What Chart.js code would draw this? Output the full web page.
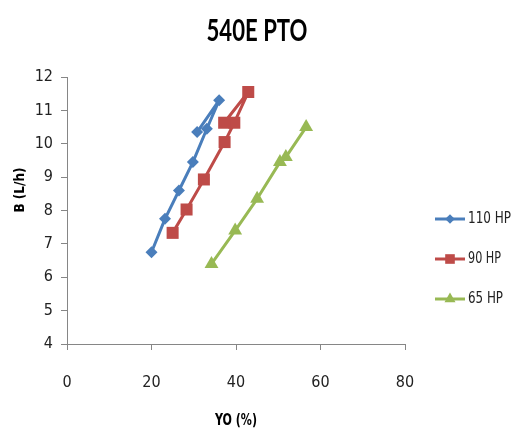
<!DOCTYPE html>
<html>
<head>
<meta charset="utf-8">
<script src="https://cdn.jsdelivr.net/npm/chart.js@4"></script>
<style>
  html, body { margin: 0; padding: 0; background: #fff; }
  #wrap { width: 511px; height: 432px; position: relative; }
</style>
</head>
<body>
<div id="wrap"><canvas id="chart" width="511" height="432"></canvas></div>
<script>
// data
const seriesNames = ['110 HP', '90 HP', '65 HP'];
const hp110X = [20.0, 23.2, 26.5, 29.8, 33.1, 36.0, 30.8];
const hp110Y = [6.75, 7.75, 8.6, 9.45, 10.45, 11.3, 10.35];
const hp90X = [25.0, 28.3, 32.4, 37.3, 39.6, 42.9, 37.2];
const hp90Y = [7.33, 8.03, 8.93, 10.05, 10.63, 11.55, 10.63];
const hp65X = [34.2, 39.8, 45.0, 50.4, 51.8, 56.6];
const hp65Y = [6.4, 7.4, 8.35, 9.45, 9.6, 10.5];
const xTicks = [0, 20, 40, 60, 80];
const yTicks = [4, 5, 6, 7, 8, 9, 10, 11, 12];

const FONT = "'DejaVu Sans Condensed', Lato, sans-serif";
const colors = ['#4A7EBB', '#BE4B48', '#98B954'];
const markers = ['rectRot', 'rect', 'triangle'];
const radii = [6, 8.5, 8];

function pts(xs, ys) { return xs.map((x, i) => ({ x: x, y: ys[i] })); }
const allX = [hp110X, hp90X, hp65X];
const allY = [hp110Y, hp90Y, hp65Y];

const datasets = seriesNames.map((name, i) => ({
  label: name,
  data: pts(allX[i], allY[i]),
  showLine: true,
  borderColor: colors[i],
  backgroundColor: colors[i],
  borderWidth: 3,
  borderJoinStyle: 'round',
  pointStyle: markers[i],
  pointRadius: radii[i],
  pointBorderWidth: 0,
  pointBackgroundColor: colors[i]
}));

// squeeze text to the narrow look of the original
function narrowText(ctx, text, x, y, width) {
  const w = ctx.measureText(text).width;
  const k = Math.min(1, width / w);
  ctx.save();
  ctx.translate(x, y);
  ctx.scale(k, 1);
  ctx.fillText(text, 0, 0);
  ctx.restore();
}

// titles + legend drawn by hand (line with marker in the middle, like the original)
const decorations = {
  id: 'decorations',
  afterDraw(chart) {
    const ctx = chart.ctx;
    const area = chart.chartArea;
    ctx.save();
    ctx.fillStyle = '#000';
    ctx.textAlign = 'center';
    ctx.textBaseline = 'middle';
    ctx.font = 'bold 31px Lato, sans-serif';
    narrowText(ctx, '540E PTO', 257, 31, 101);

    ctx.font = 'bold 16px ' + FONT;
    narrowText(ctx, 'YO (%)', (area.left + area.right) / 2, 421, 42);

    ctx.save();
    ctx.translate(20, 190);
    ctx.rotate(-Math.PI / 2);
    ctx.font = 'bold 14px ' + FONT;
    narrowText(ctx, 'B (L/h)', 0, 0, 45);
    ctx.restore();

    ctx.textAlign = 'left';
    ctx.font = '16px ' + FONT;
    const widths = [43, 33, 35];
    seriesNames.forEach((name, i) => {
      const y = 219 + i * 40;
      ctx.strokeStyle = colors[i];
      ctx.lineWidth = 3;
      ctx.beginPath();
      ctx.moveTo(435, y);
      ctx.lineTo(465, y);
      ctx.stroke();
      ctx.fillStyle = colors[i];
      Chart.helpers.drawPoint(ctx, { pointStyle: markers[i], radius: radii[i] * 0.8, rotation: 0 }, 450, y);
      ctx.fillStyle = '#222';
      narrowText(ctx, name, 468, y, widths[i]);
    });
    ctx.restore();
  }
};

new Chart(document.getElementById('chart'), {
  type: 'scatter',
  data: { datasets: datasets },
  options: {
    responsive: false,
    animation: false,
    layout: { padding: { left: 0, right: 106, top: 77, bottom: 0 } },
    plugins: { legend: { display: false }, tooltip: { enabled: false } },
    scales: {
      x: {
        type: 'linear',
        min: 0, max: 80,
        afterBuildTicks: axis => { axis.ticks = xTicks.map(v => ({ value: v })); },
        afterFit: axis => { axis.height = 88; },
        border: { color: '#868686', width: 1 },
        grid: { display: true, drawOnChartArea: false, drawTicks: true, tickLength: 6, color: '#868686' },
        ticks: { padding: 23, color: '#222', font: { family: FONT, size: 16 } }
      },
      y: {
        type: 'linear',
        min: 4, max: 12,
        afterBuildTicks: axis => { axis.ticks = yTicks.map(v => ({ value: v })); },
        afterFit: axis => { axis.width = 67; },
        border: { color: '#868686', width: 1 },
        grid: { display: true, drawOnChartArea: false, drawTicks: true, tickLength: 6, color: '#868686' },
        ticks: { padding: 8, color: '#222', font: { family: FONT, size: 16 } }
      }
    }
  },
  plugins: [decorations]
});
</script>
</body>
</html>
